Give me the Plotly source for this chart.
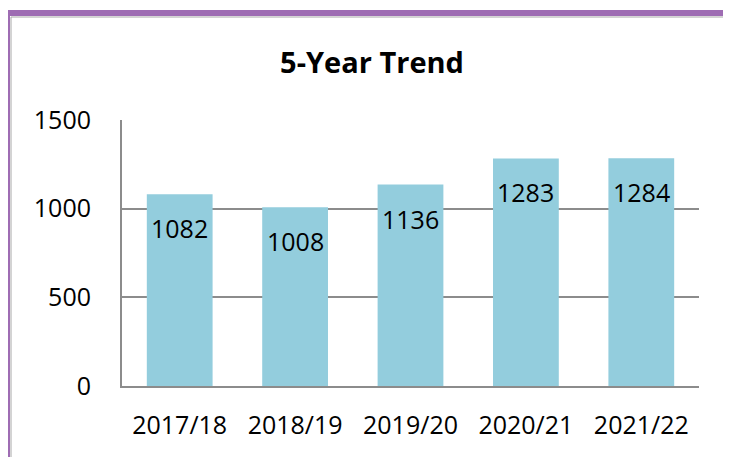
import plotly.graph_objects as go

years = ["2017/18", "2018/19", "2019/20", "2020/21", "2021/22"]
counts = [1082, 1008, 1136, 1283, 1284]
y_ticks = [0, 500, 1000, 1500]

# page body has an 8px margin, so work in reference pixels minus 8
OFF = 8
W, H = 731 - OFF, 457 - OFF
L, R, T, B = 122 - OFF, W - (699 - OFF), 120 - OFF, H - (386 - OFF)
pw, ph = W - L - R, H - T - B
FONT = "Open Sans"


def px_x(x):
    return (x - OFF - L) / pw


def px_y(y):
    return 1 - (y - OFF - T) / ph


fig = go.Figure()
fig.add_trace(go.Bar(
    x=years, y=counts, marker_color="#93CDDD", width=0.57,
    marker_line_width=0, showlegend=False,
))

for yr, v in zip(years, counts):
    fig.add_annotation(x=yr, y=v, text=str(v), showarrow=False, yshift=-34,
                       font=dict(size=25, color="black", family=FONT))

purple = "#9E6CB3"
fig.add_shape(type="line", xref="paper", yref="paper", x0=px_x(4), x1=px_x(760),
              y0=px_y(13), y1=px_y(13), line=dict(color=purple, width=6))
fig.add_shape(type="line", xref="paper", yref="paper", x0=px_x(7), x1=px_x(7),
              y0=px_y(10), y1=px_y(480), line=dict(color=purple, width=6))
fig.add_shape(type="line", xref="paper", yref="paper", x0=px_x(11), x1=px_x(760),
              y0=px_y(17), y1=px_y(17), line=dict(color="#A8A8A8", width=1))
fig.add_shape(type="line", xref="paper", yref="paper", x0=px_x(11), x1=px_x(11),
              y0=px_y(17), y1=px_y(480), line=dict(color="#A8A8A8", width=1))

fig.update_layout(
    width=W, height=H,
    margin=dict(l=L, r=R, t=T, b=B),
    paper_bgcolor="white", plot_bgcolor="white",
    font=dict(family=FONT, size=25, color="black"),
    title=dict(text="<b>5-Year Trend</b>", x=(372 - OFF) / W, xanchor="center",
               y=1 - (63 - OFF) / H, yanchor="middle", font=dict(size=29, family=FONT)),
)
fig.update_xaxes(showgrid=False, showline=True, linecolor="#8C8C8C", linewidth=2,
                 ticks="", ticklabelstandoff=16, tickfont=dict(size=25))
fig.update_yaxes(range=[0, 1500], tickvals=y_ticks, showgrid=True, gridcolor="#8C8C8C",
                 gridwidth=2, showline=True, linecolor="#8C8C8C", linewidth=2,
                 zeroline=False, ticks="", ticklabelstandoff=24, tickfont=dict(size=25))

fig.write_html("out.html")
